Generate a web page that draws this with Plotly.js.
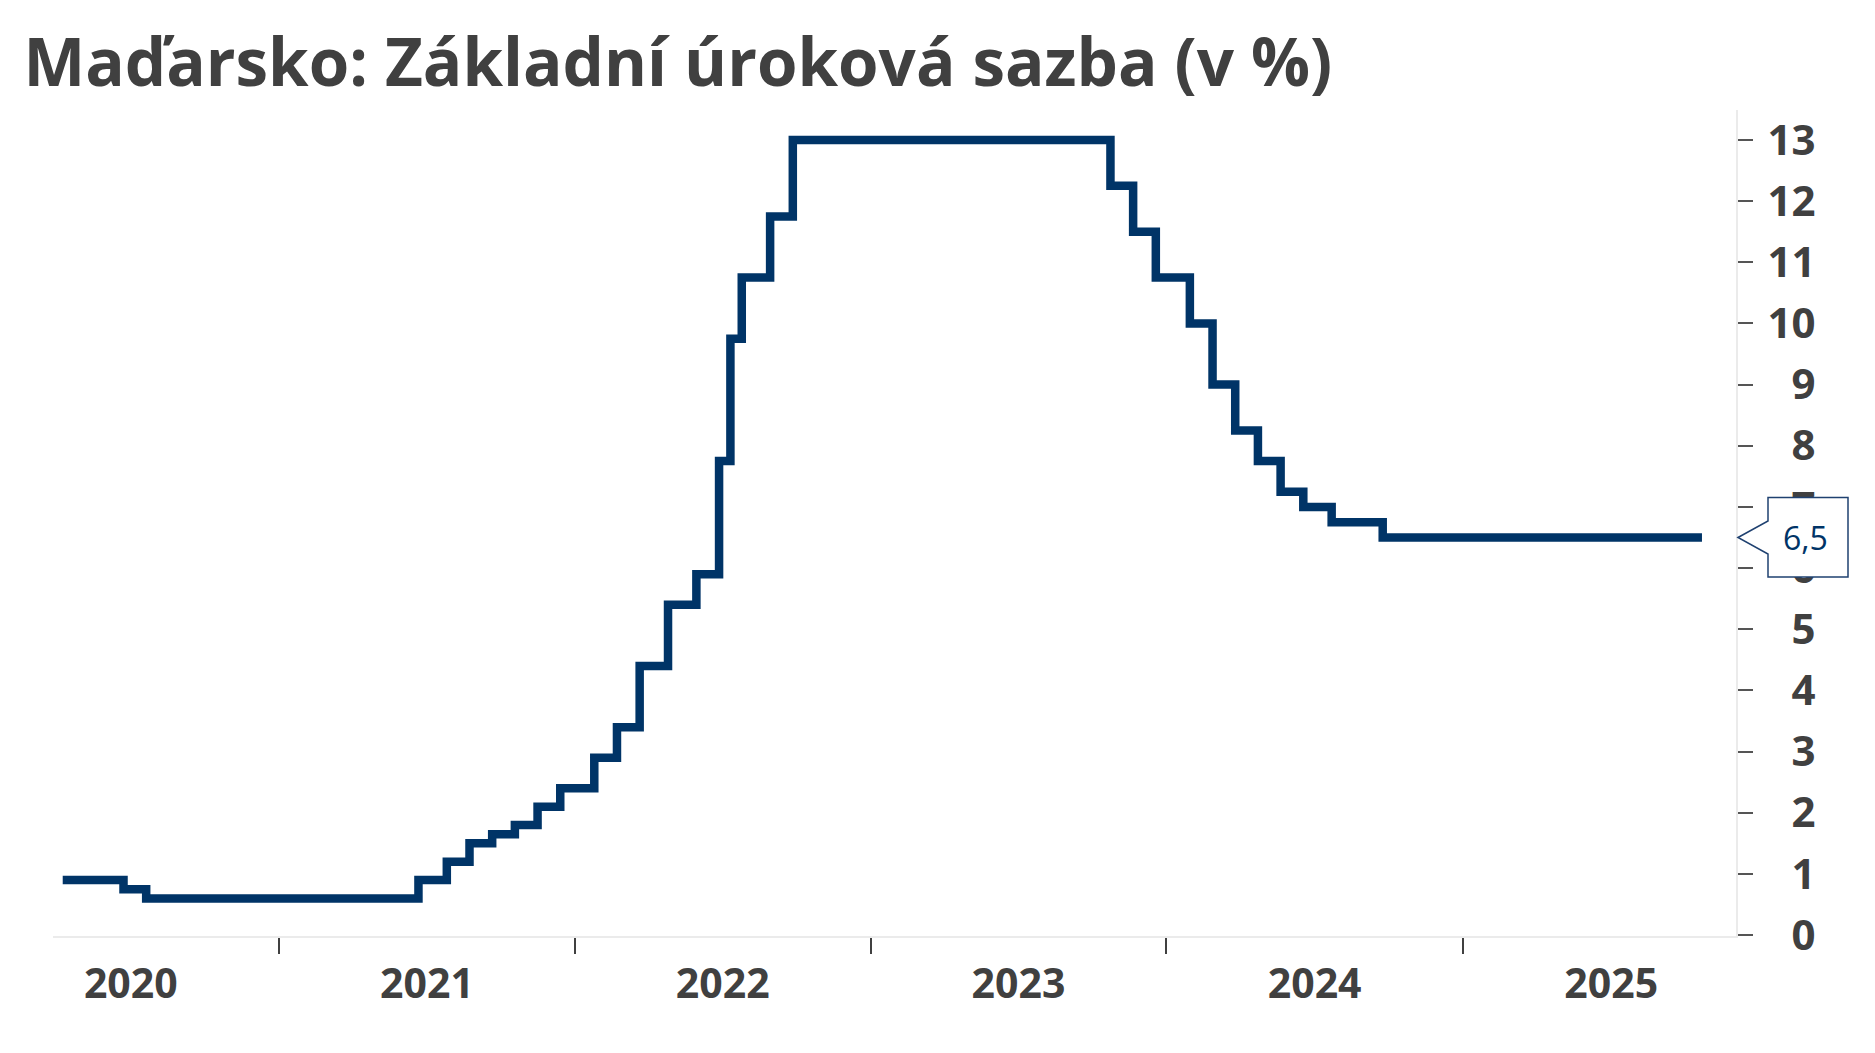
<!DOCTYPE html>
<html>
<head>
<meta charset="utf-8">
<script src="https://cdn.plot.ly/plotly-3.0.1.min.js"></script>
<style>html,body{margin:0;padding:0;background:#fff;}#chart{width:1875px;height:1053px;}</style>
</head>
<body>
<div id="chart"></div>
<script>
// Hungary: central bank base rate (%) – change dates and levels
const dates = ['2020-04-09','2020-06-23','2020-07-21','2021-06-22','2021-07-27','2021-08-24','2021-09-21','2021-10-19','2021-11-16','2021-12-14','2022-01-25','2022-02-22','2022-03-22','2022-04-26','2022-05-31','2022-06-28','2022-07-12','2022-07-26','2022-08-30','2022-09-27','2023-10-24','2023-11-21','2023-12-19','2024-01-30','2024-02-27','2024-03-26','2024-04-23','2024-05-21','2024-06-18','2024-07-23','2024-09-24','2025-10-23'];
const rates = [0.9,0.75,0.6,0.9,1.2,1.5,1.65,1.8,2.1,2.4,2.9,3.4,4.4,5.4,5.9,7.75,9.75,10.75,11.75,13,12.25,11.5,10.75,10,9,8.25,7.75,7.25,7,6.75,6.5,6.5];
const yTickVals = [0,1,2,3,4,5,6,7,8,9,10,11,12,13];
const yTickText = yTickVals.map(v => (v < 10 ? '\u2007' : '') + String(v));
const titleText = 'Maďarsko: Základní úroková sazba (v %)';
const lastValue = rates[rates.length - 1];
const lastLabel = String(lastValue).replace('.', ',');

const navy = '#003467';
const textGrey = '#404040';

const trace = {
  x: dates, y: rates, type: 'scatter', mode: 'lines',
  line: {color: navy, width: 8.5, shape: 'hv'},
  hoverinfo: 'skip', showlegend: false
};

const layout = {
  width: 1875, height: 1053,
  margin: {l: 53, r: 139, t: 110, b: 117},
  paper_bgcolor: '#ffffff', plot_bgcolor: '#ffffff',
  font: {family: 'Open Sans, sans-serif', color: textGrey},
  title: {
    text: '<b>' + titleText + '</b>',
    font: {family: 'Open Sans, sans-serif', size: 65.5, color: textGrey},
    xref: 'container', yref: 'container', x: 0.0125, xanchor: 'left', y: 0.94, yanchor: 'middle'
  },
  xaxis: {
    type: 'date', range: ['2020-03-28', '2025-12-04'],
    tick0: '2021-01-01', dtick: 'M12', tickformat: '%Y', ticklabelmode: 'period',
    ticks: 'outside', ticklen: 16, tickwidth: 2, tickcolor: '#404040',
    showline: true, linecolor: '#ebebeb', linewidth: 2,
    showgrid: false, zeroline: false,
    tickfont: {family: 'Open Sans, sans-serif', size: 41, color: textGrey, weight: 'bold'},
    ticklabelstandoff: -5
  },
  yaxis: {
    side: 'right', range: [-0.015, 13.49],
    tickmode: 'array', tickvals: yTickVals, ticktext: yTickText,
    ticks: 'outside', ticklen: 15, tickwidth: 2, tickcolor: '#555555',
    showline: true, linecolor: '#ebebeb', linewidth: 2,
    showgrid: false, zeroline: false,
    tickfont: {family: 'Open Sans, sans-serif', size: 42, color: textGrey, weight: 'bold'},
    ticklabelstandoff: 6
  },
  shapes: [{
    type: 'path', layer: 'above',
    xref: 'paper', xsizemode: 'pixel', xanchor: 1,
    yref: 'y', ysizemode: 'pixel', yanchor: lastValue,
    path: 'M 2 0 L 32 16.5 L 32 40 L 112 40 L 112 -39.5 L 32 -39.5 L 32 -16.5 Z',
    fillcolor: '#ffffff', line: {color: '#1f4170', width: 1.5}
  }],
  annotations: [{
    xref: 'paper', x: 1, xanchor: 'left', xshift: 45,
    yref: 'y', y: lastValue, yanchor: 'middle',
    text: lastLabel, showarrow: false,
    font: {family: 'Open Sans, sans-serif', size: 32, color: navy}
  }]
};

Plotly.newPlot('chart', [trace], layout, {staticPlot: true, displayModeBar: false});
</script>
</body>
</html>
